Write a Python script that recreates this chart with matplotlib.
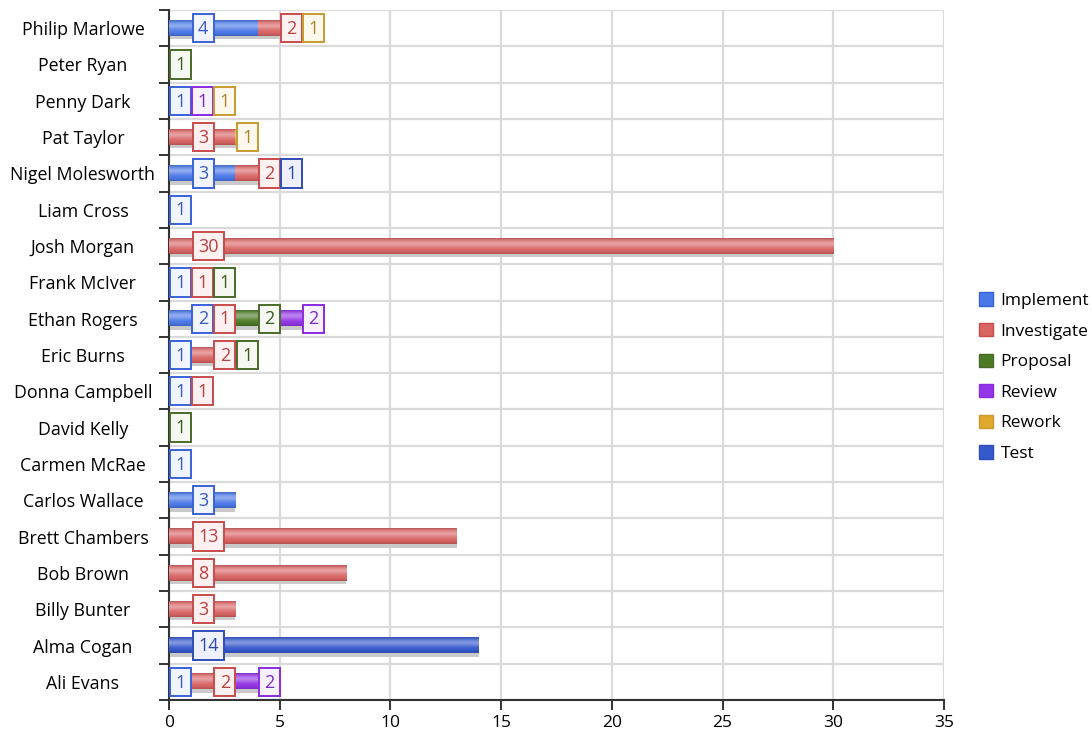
import numpy as np
import matplotlib.pyplot as plt
from matplotlib.patches import Rectangle
from matplotlib.colors import to_rgb

plt.rcParams['font.family'] = ['Open Sans', 'DejaVu Sans']

people = ['Philip Marlowe', 'Peter Ryan', 'Penny Dark', 'Pat Taylor',
          'Nigel Molesworth', 'Liam Cross', 'Josh Morgan', 'Frank McIver',
          'Ethan Rogers', 'Eric Burns', 'Donna Campbell', 'David Kelly',
          'Carmen McRae', 'Carlos Wallace', 'Brett Chambers', 'Bob Brown',
          'Billy Bunter', 'Alma Cogan', 'Ali Evans']

stages = ['Implement', 'Investigate', 'Proposal', 'Review', 'Rework', 'Test']

implement   = [4, 0, 1, 0, 3, 1, 0, 1, 2, 1, 1, 0, 1, 3, 0, 0, 0, 0, 1]
investigate = [2, 0, 0, 3, 2, 0, 30, 1, 1, 2, 1, 0, 0, 0, 13, 8, 3, 0, 2]
proposal    = [0, 1, 0, 0, 0, 0, 0, 1, 2, 1, 0, 1, 0, 0, 0, 0, 0, 0, 0]
review      = [0, 0, 1, 0, 0, 0, 0, 0, 2, 0, 0, 0, 0, 0, 0, 0, 0, 0, 2]
rework      = [1, 0, 1, 1, 0, 0, 0, 0, 0, 0, 0, 0, 0, 0, 0, 0, 0, 0, 0]
test        = [0, 0, 0, 0, 1, 0, 0, 0, 0, 0, 0, 0, 0, 0, 0, 0, 0, 14, 0]

series = [implement, investigate, proposal, review, rework, test]

# fill, tag edge, tag text and tag background per stage
fills = ['#4a78e6', '#d86464', '#4e7a26', '#9235e6', '#e0a82a', '#3558cc']
edges = ['#3a62d8', '#c84c4c', '#4a6a2a', '#8a2be2', '#c99a30', '#2f4db8']
texts = ['#3a58c0', '#b84040', '#3f5a20', '#7a28c8', '#a8842c', '#2f47a8']
boxbg = ['#f0f4fd', '#fcf0f0', '#f5f8f0', '#f7f0fd', '#fdf8ec', '#eef1fb']


def shaded(color, n=24):
    # vertical cylinder-like shading: darker rims, light band above centre
    base = np.array(to_rgb(color))
    t = np.linspace(0, 1, n)
    light = 0.38 * np.exp(-((t - 0.35) / 0.24) ** 2)
    dark = 0.15 * (np.exp(-(t / 0.08) ** 2) + np.exp(-((1 - t) / 0.12) ** 2))
    rgb = base + (1 - base) * light[:, None] - base * dark[:, None]
    return np.clip(rgb, 0, 1)[:, None, :]


fig = plt.figure(figsize=(10.92, 7.41), dpi=100)
ax = fig.add_axes([0.1548, 0.0553, 0.7097, 0.9312])

y = np.arange(len(people))
bar_h = 0.42
left = np.zeros(len(people))

for k, vals in enumerate(series):
    vals = np.array(vals, dtype=float)
    mask = vals > 0
    # drop shadow
    ax.barh(y[mask] + 0.1, vals[mask], left=left[mask], height=bar_h,
            color='#c9c9c9', zorder=2)
    grad = shaded(fills[k])
    for i in np.where(mask)[0]:
        ax.imshow(grad, extent=(left[i], left[i] + vals[i],
                                y[i] + bar_h / 2, y[i] - bar_h / 2),
                  aspect='auto', interpolation='bilinear', zorder=3)
    left = left + vals

# value labels in boxed tags
left = np.zeros(len(people))
for k, vals in enumerate(series):
    for i, v in enumerate(vals):
        if v <= 0:
            continue
        s = str(v)
        w = 0.95 if len(s) == 1 else 1.4
        x0 = left[i] + min(v - w, 1.07)
        ax.add_patch(Rectangle((x0, i - 0.39), w, 0.78, facecolor=boxbg[k],
                               edgecolor=edges[k], linewidth=1.4, zorder=5))
        ax.text(x0 + w / 2, i + 0.02, s, ha='center', va='center',
                fontsize=13, color=texts[k], zorder=6)
    left = left + np.array(vals)

ax.set_xlim(0, 35)
ax.set_ylim(len(people) - 0.5, -0.5)
ax.set_xticks(np.arange(0, 36, 5))
ax.set_yticks(y)
ax.set_yticklabels(people, ha='center')
ax.set_yticks(np.arange(len(people) + 1) - 0.5, minor=True)

ax.tick_params(axis='y', which='major', length=0, pad=62, labelsize=12.8)
ax.tick_params(axis='y', which='minor', length=7, width=1.4, color='#333333')
ax.tick_params(axis='x', length=7, width=1.4, color='#333333', labelsize=12.5)

ax.grid(axis='x', which='major', color='#dadada', linewidth=1.6, zorder=0)
ax.grid(axis='y', which='minor', color='#dadada', linewidth=1.6, zorder=0)
ax.set_axisbelow(True)

for side in ['top', 'right']:
    ax.spines[side].set_visible(False)
for side in ['left', 'bottom']:
    ax.spines[side].set_color('#333333')
    ax.spines[side].set_linewidth(1.5)

handles = [Rectangle((0, 0), 1, 1, facecolor=fills[k], edgecolor=edges[k],
                     linewidth=1) for k in range(len(stages))]
fig.legend(handles, stages, loc='center left', bbox_to_anchor=(0.882, 0.491),
           frameon=False, fontsize=12.5, handlelength=0.8, handleheight=0.8,
           handletextpad=0.45, labelspacing=0.8)

plt.savefig('out.png', dpi=100)
